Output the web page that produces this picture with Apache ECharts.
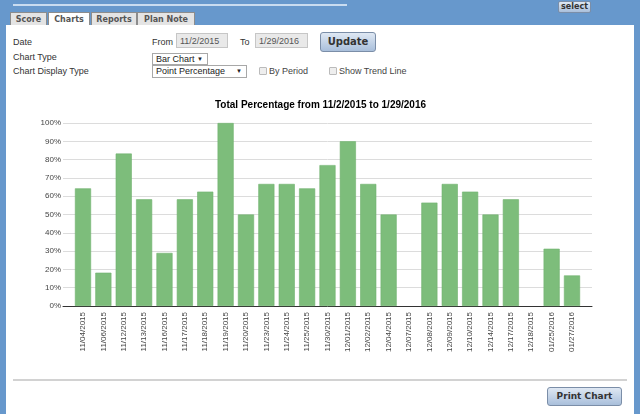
<!DOCTYPE html>
<html>
<head>
<meta charset="utf-8">
<script src="https://cdn.jsdelivr.net/npm/echarts@6/dist/echarts.min.js"></script>
<style>
  html, body { margin: 0; padding: 0; width: 640px; height: 414px; overflow: hidden; }
  body { background: #6798cc; position: relative; font-family: "Liberation Sans", Arial, sans-serif; color: #333; }
  .abs { position: absolute; }
  .panel { left: 6px; top: 25px; width: 628px; height: 389px; background: #fff; }
  .topline { left: 13px; top: 4px; width: 334px; height: 2px; background: #c9dcf0; }
  .tab { top: 12px; height: 12px; border: 1px solid #8c8c8c; border-bottom: none; background: #e4e4e4;
         font: bold 8px "DejaVu Sans", Verdana, sans-serif; color: #555; text-align: center; line-height: 13px; }
  .tab.on { background: #fff; height: 13px; }
  .lbl { font-size: 9px; line-height: 11px; color: #333; }
  .inp { height: 15px; background: #e9e9e9; border: 1px solid #c6c6c6; font-size: 9px; line-height: 14px;
         color: #555; padding-left: 3px; box-sizing: border-box; }
  .btn { border: 1px solid #7b8ea8; border-radius: 3px; background: linear-gradient(#dfe8f3, #a9bfdb);
         font: bold 9px "DejaVu Sans", Verdana, sans-serif; color: #333; text-align: center; box-sizing: border-box; }
  .sel { border: 1px solid #a8a8a8; background: #fff; font-size: 9px; line-height: 10px; color: #222;
         padding-left: 3px; box-sizing: border-box; }
  .sel span { position: absolute; right: 4px; top: 0; font-size: 6px; }
  .chk { width: 8px; height: 8px; border: 1px solid #bbb; background: #eee; border-radius: 1px; box-sizing: border-box; }
  #main { left: 0; top: 88px; width: 640px; height: 282px; }
</style>
</head>
<body>
<div class="abs topline"></div>
<div class="abs btn" style="left:558px;top:1px;width:33px;height:12px;line-height:10px;font-size:8px;border-radius:2px;">select</div>

<div class="abs tab" style="left:10px;width:35px;">Score</div>
<div class="abs tab on" style="left:48px;width:40px;">Charts</div>
<div class="abs tab" style="left:91px;width:44px;">Reports</div>
<div class="abs tab" style="left:137px;width:56px;">Plan Note</div>

<div class="abs panel"></div>

<div class="abs lbl" style="left:13px;top:37px;">Date</div>
<div class="abs lbl" style="left:13px;top:52px;">Chart Type</div>
<div class="abs lbl" style="left:13px;top:66px;">Chart Display Type</div>

<div class="abs lbl" style="left:152px;top:37px;">From</div>
<div class="abs inp" style="left:176px;top:33px;width:52px;">11/2/2015</div>
<div class="abs lbl" style="left:240px;top:37px;">To</div>
<div class="abs inp" style="left:255px;top:33px;width:53px;">1/29/2016</div>
<div class="abs btn" style="left:320px;top:32px;width:56px;height:20px;line-height:18px;font-size:10px;">Update</div>

<div class="abs sel" style="left:152px;top:53px;width:56px;height:12px;">Bar Chart<span>&#9660;</span></div>
<div class="abs sel" style="left:152px;top:65px;width:95px;height:13px;line-height:11px;">Point Percentage<span>&#9660;</span></div>
<div class="abs chk" style="left:259px;top:67px;"></div>
<div class="abs lbl" style="left:269px;top:66px;color:#444;">By Period</div>
<div class="abs chk" style="left:329px;top:67px;"></div>
<div class="abs lbl" style="left:339px;top:66px;color:#444;">Show Trend Line</div>

<div class="abs" id="main"></div>

<div class="abs" style="left:13px;top:379px;width:614px;height:2px;background:#d2d2d2;"></div>
<div class="abs btn" style="left:547px;top:387px;width:75px;height:19px;line-height:17px;">Print Chart</div>

<script>
const dates = [
    "11/04/2015", "11/06/2015", "11/12/2015", "11/13/2015", "11/16/2015",
    "11/17/2015", "11/18/2015", "11/19/2015", "11/20/2015", "11/23/2015",
    "11/24/2015", "11/25/2015", "11/30/2015", "12/01/2015", "12/02/2015",
    "12/04/2015", "12/07/2015", "12/08/2015", "12/09/2015", "12/10/2015",
    "12/14/2015", "12/17/2015", "12/18/2015", "01/25/2016", "01/27/2016"
];
const percents = [
    64.3, 18.2, 83.3, 58.3, 29.0,
    58.3, 62.5, 100, 50, 66.7,
    66.7, 64.3, 77.0, 90.0, 66.7,
    50, 0, 56.5, 66.7, 62.5,
    50, 58.3, 0, 31.3, 16.7
];
const yTicks = [0, 10, 20, 30, 40, 50, 60, 70, 80, 90, 100];

const myChart = echarts.init(document.getElementById("main"));

//grid 0 only draws the gridlines and labels, grid 1 holds the bars
const option = {
    animation: false,
    title: {
        text: "Total Percentage from 11/2/2015 to 1/29/2016",
        left: 210,
        top: 7,
        textStyle: { fontSize: 10, fontWeight: "bold", color: "#000", fontFamily: "Liberation Sans" }
    },
    grid: [
        { left: 63, right: 48, top: 35, bottom: 64 },
        { left: 72.8, right: 57.8, top: 35, bottom: 64 }
    ],
    xAxis: [
        {
            gridIndex: 0,
            type: "value",
            show: true,
            min: 0,
            max: 1,
            axisLabel: { show: false },
            axisTick: { show: false },
            splitLine: { show: false },
            axisLine: { show: true, lineStyle: { color: "#333", width: 1 } }
        },
        {
            gridIndex: 1,
            type: "category",
            data: dates,
            axisLine: { show: false },
            axisTick: { show: false },
            axisLabel: {
                interval: 0,
                rotate: 90,
                margin: 6,
                fontSize: 8,
                color: "#444",
                fontFamily: "Liberation Sans"
            }
        }
    ],
    yAxis: [
        {
            gridIndex: 0,
            type: "value",
            min: yTicks[0],
            max: yTicks[yTicks.length - 1],
            interval: 10,
            axisLine: { show: false },
            axisTick: { show: false },
            axisLabel: {
                formatter: "{value}%",
                fontSize: 8,
                color: "#444",
                margin: 2,
                fontFamily: "Liberation Sans"
            },
            splitLine: { lineStyle: { color: "#dcdcdc", width: 1 } }
        },
        {
            gridIndex: 1,
            type: "value",
            min: 0,
            max: 100,
            show: false
        }
    ],
    series: [
        {
            type: "bar",
            xAxisIndex: 1,
            yAxisIndex: 1,
            barCategoryGap: "21%",
            itemStyle: { color: "#7dbd7b", borderColor: "#70b26e", borderWidth: 0.6 },
            data: percents.map(v => (v > 0 ? v : null))
        }
    ]
};

myChart.setOption(option);
</script>
</body>
</html>
